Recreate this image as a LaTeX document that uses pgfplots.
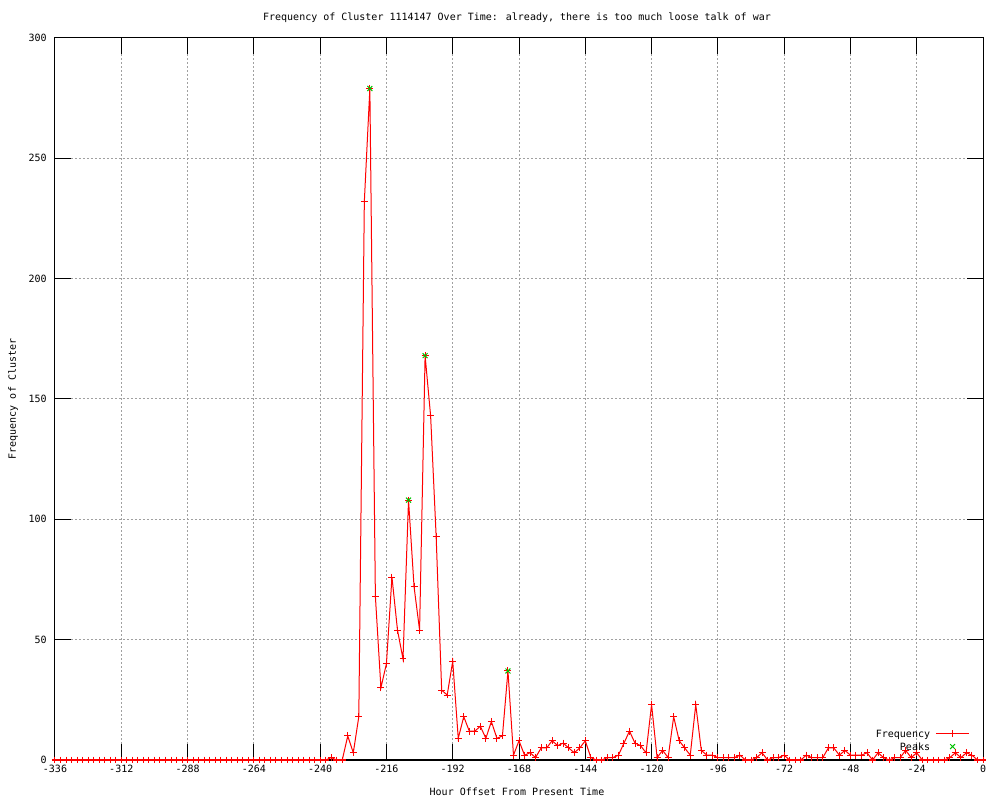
\documentclass[border=0pt]{standalone}
\usepackage{fontspec}
\setmainfont{DejaVu Sans Mono}
\usepackage{pgfplots}
\usepackage{pgfplotstable}
\pgfplotsset{compat=1.18}
\definecolor{gridgray}{RGB}{160,160,160}
\definecolor{peakgreen}{RGB}{0,192,0}

\pgfplotstableread{
h v
-336 0
-334 0
-332 0
-330 0
-328 0
-326 0
-324 0
-322 0
-320 0
-318 0
-316 0
-314 0
-312 0
-310 0
-308 0
-306 0
-304 0
-302 0
-300 0
-298 0
-296 0
-294 0
-292 0
-290 0
-288 0
-286 0
-284 0
-282 0
-280 0
-278 0
-276 0
-274 0
-272 0
-270 0
-268 0
-266 0
-264 0
-262 0
-260 0
-258 0
-256 0
-254 0
-252 0
-250 0
-248 0
-246 0
-244 0
-242 0
-240 0
-238 0
-236 1
-234 0
-232 0
-230 10
-228 3
-226 18
-224 232
-222 279
-220 68
-218 30
-216 40
-214 76
-212 54
-210 42
-208 108
-206 72
-204 54
-202 168
-200 143
-198 93
-196 29
-194 27
-192 41
-190 9
-188 18
-186 12
-184 12
-182 14
-180 9
-178 16
-176 9
-174 10
-172 37
-170 2
-168 8
-166 2
-164 3
-162 1
-160 5
-158 5
-156 8
-154 6
-152 7
-150 5
-148 3
-146 5
-144 8
-142 1
-140 0
-138 0
-136 1
-134 1
-132 2
-130 7
-128 12
-126 7
-124 6
-122 3
-120 23
-118 1
-116 4
-114 1
-112 18
-110 8
-108 5
-106 2
-104 23
-102 4
-100 2
-98 2
-96 1
-94 1
-92 1
-90 1
-88 2
-86 0
-84 0
-82 1
-80 3
-78 0
-76 1
-74 1
-72 2
-70 0
-68 0
-66 0
-64 2
-62 1
-60 1
-58 1
-56 5
-54 5
-52 2
-50 4
-48 2
-46 2
-44 2
-42 3
-40 0
-38 3
-36 1
-34 0
-32 1
-30 1
-28 4
-26 1
-24 3
-22 0
-20 0
-18 0
-16 0
-14 0
-12 1
-10 3
-8 1
-6 3
-4 2
-2 0
0 0
}\freqdata

\pgfplotstableread{
h v
-222 279
-208 108
-202 168
-172 37
}\peakdata

\begin{document}
\fontsize{7.5pt}{9pt}\selectfont
\begin{tikzpicture}
\begin{axis}[
  name=ax,
  scale only axis,
  width=696pt, height=541.5pt,
  xmin=-336, xmax=0, ymin=0, ymax=300,
  xtick={-336,-312,...,0},
  ytick={0,50,...,300},
  /pgf/number format/assume math mode=true,
  tick align=inside,
  major tick length=12pt,
  tick style={black, line width=0.75pt},
  axis line style={black, line width=0.75pt},
  grid=major,
  grid style={gridgray, line width=0.75pt, dash pattern=on 1.5pt off 1.5pt},
  xticklabel style={inner sep=0pt, anchor=north, yshift=-3.75pt},
  yticklabel style={inner sep=0pt, anchor=east, xshift=-6pt},
  clip=false,
  title={Frequency of Cluster 1114147 Over Time: already, there is too much loose talk of war},
  xlabel={Hour Offset From Present Time},
  ylabel={Frequency of Cluster},
  every axis title/.style={at={(axis description cs:0.5,1)}, anchor=center, yshift=15pt, xshift=-1.5pt},
  every axis x label/.style={at={(axis description cs:0.5,0)}, anchor=center, yshift=-24pt, xshift=-1.5pt},
  every axis y label/.style={at={(axis description cs:-0.04526,0.5)}, anchor=center, rotate=90},
  legend plot pos=right,
  legend cell align=right,
  legend image code/.code={\draw[mark repeat=2,mark phase=2,#1] plot coordinates {(0pt,0pt) (12.5pt,0pt) (25pt,0pt)};},
  legend style={draw=none, fill=none, at={(axis description cs:1,0)}, anchor=south east,
    xshift=-9.75pt, yshift=6pt, inner sep=0pt, row sep=2.25pt, column sep=3pt,
    nodes={inner sep=1pt, text depth=0pt}},
]
\addplot[red, line width=0.75pt, mark=+, mark size=2.6pt, mark options={solid, line width=0.75pt}]
  table[x=h, y=v] {\freqdata};
\addlegendentry{Frequency}
\addplot[only marks, peakgreen, mark=x, mark size=2.6pt, mark options={line width=0.75pt}]
  table[x=h, y=v] {\peakdata};
\addlegendentry{Peaks}
\draw[black, line width=0.75pt] (rel axis cs:0,0) -- (rel axis cs:1,0);
\end{axis}
\pgfresetboundingbox
\path[use as bounding box] ([xshift=-41.25pt,yshift=-30pt]ax.south west) rectangle ([xshift=12.75pt,yshift=28.5pt]ax.north east);
\end{tikzpicture}
\end{document}
